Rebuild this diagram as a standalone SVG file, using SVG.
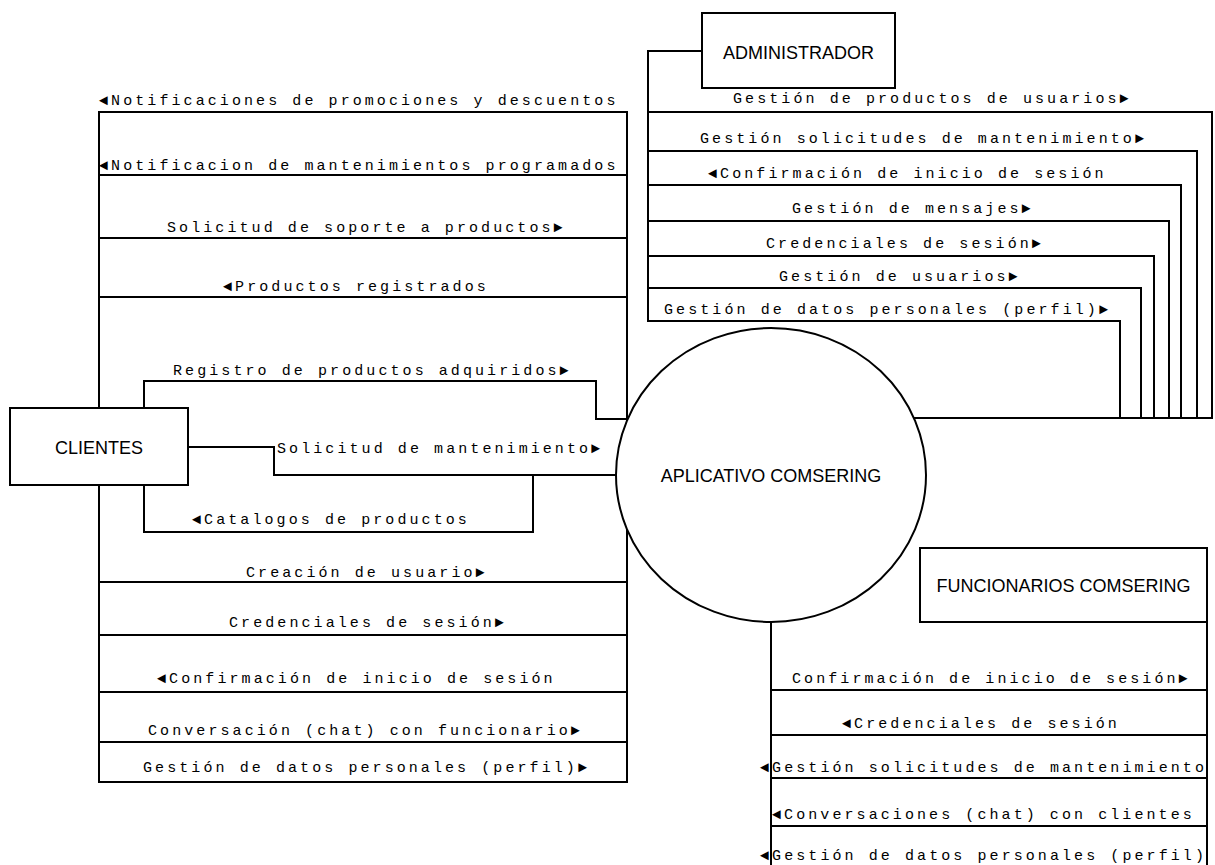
<svg xmlns="http://www.w3.org/2000/svg" width="1215" height="865" viewBox="0 0 1215 865">
<style>
.ln{fill:none;stroke:#000;stroke-width:2;stroke-linejoin:miter}
.lb{font-family:"Liberation Mono","DejaVu Sans Mono",monospace;font-size:15px;letter-spacing:3.08px;fill:#000}
.box{fill:#fff;stroke:#000;stroke-width:2}
.nt{font-family:"Liberation Sans",Arial,sans-serif;font-size:18px;fill:#000;text-anchor:middle}
</style>
<rect width="1215" height="865" fill="#fff"/>
<g id="connectors">
  <g id="e1"><text class="lb" x="99" y="105">◄Notificaciones de promociones y descuentos</text><path class="ln" d="M99 408V112H627V420"/></g>
  <g id="e2"><text class="lb" x="99" y="170">◄Notificacion de mantenimientos programados</text><path class="ln" d="M99 408V175H627V420"/></g>
  <g id="e3"><text class="lb" x="167" y="232">Solicitud de soporte a productos►</text><path class="ln" d="M99 408V238H627V420"/></g>
  <g id="e4"><text class="lb" x="223" y="291">◄Productos registrados</text><path class="ln" d="M99 408V297H627V420"/></g>
  <g id="e5"><text class="lb" x="173" y="375">Registro de productos adquiridos►</text><path class="ln" d="M144 408V381H596V419H627"/></g>
  <g id="e6"><text class="lb" x="277" y="453">Solicitud de mantenimiento►</text><path class="ln" d="M188 447H274V475H616"/></g>
  <g id="e7"><text class="lb" x="192" y="524">◄Catalogos de productos</text><path class="ln" d="M144 485V532H533V475"/></g>
  <g id="e8"><text class="lb" x="246" y="577">Creación de usuario►</text><path class="ln" d="M99 485V582H627V529"/></g>
  <g id="e9"><text class="lb" x="229" y="627">Credenciales de sesión►</text><path class="ln" d="M99 485V635H627V529"/></g>
  <g id="e10"><text class="lb" x="157" y="683">◄Confirmación de inicio de sesión</text><path class="ln" d="M99 485V692H627V529"/></g>
  <g id="e11"><text class="lb" x="148" y="735">Conversación (chat) con funcionario►</text><path class="ln" d="M99 485V742H627V529"/></g>
  <g id="e12"><text class="lb" x="143" y="772">Gestión de datos personales (perfil)►</text><path class="ln" d="M99 485V782H627V529"/></g>
  <g id="e13"><text class="lb" x="733" y="103">Gestión de productos de usuarios►</text><path class="ln" d="M702 51H648V112H1212V418H914"/></g>
  <g id="e14"><text class="lb" x="700" y="143">Gestión solicitudes de mantenimiento►</text><path class="ln" d="M702 51H648V151H1197V418H914"/></g>
  <g id="e15"><text class="lb" x="708" y="178">◄Confirmación de inicio de sesión</text><path class="ln" d="M702 51H648V185H1181V418H914"/></g>
  <g id="e16"><text class="lb" x="792" y="213">Gestión de mensajes►</text><path class="ln" d="M702 51H648V221H1169V418H914"/></g>
  <g id="e17"><text class="lb" x="766" y="248">Credenciales de sesión►</text><path class="ln" d="M702 51H648V256H1154V418H914"/></g>
  <g id="e18"><text class="lb" x="779" y="281">Gestión de usuarios►</text><path class="ln" d="M702 51H648V288H1141V418H914"/></g>
  <g id="e19"><text class="lb" x="664" y="314">Gestión de datos personales (perfil)►</text><path class="ln" d="M702 51H648V321H1120V418H914"/></g>
  <g id="e20"><text class="lb" x="792" y="683">Confirmación de inicio de sesión►</text><path class="ln" d="M771 622V690H1207V622"/></g>
  <g id="e21"><text class="lb" x="842" y="728">◄Credenciales de sesión</text><path class="ln" d="M771 622V735H1207V622"/></g>
  <g id="e22"><text class="lb" x="760" y="772">◄Gestión solicitudes de mantenimiento</text><path class="ln" d="M771 622V778H1207V622"/></g>
  <g id="e23"><text class="lb" x="772" y="819">◄Conversaciones (chat) con clientes</text><path class="ln" d="M771 622V826H1207V622"/></g>
  <g id="e24"><text class="lb" x="760" y="860">◄Gestión de datos personales (perfil)</text><path class="ln" d="M771 622V875H1207V622"/></g>
</g>
<g id="node-administrador"><rect class="box" x="702" y="13" width="193" height="75"/><text class="nt" x="798.5" y="59">ADMINISTRADOR</text></g>
<g id="node-clientes"><rect class="box" x="10" y="408" width="178" height="77"/><text class="nt" x="99" y="454">CLIENTES</text></g>
<g id="node-aplicativo"><ellipse class="box" cx="771" cy="475" rx="155" ry="147"/><text class="nt" x="771" y="482">APLICATIVO COMSERING</text></g>
<g id="node-funcionarios"><rect class="box" x="920" y="548" width="287" height="74"/><text class="nt" x="1063.5" y="592">FUNCIONARIOS COMSERING</text></g>
</svg>
